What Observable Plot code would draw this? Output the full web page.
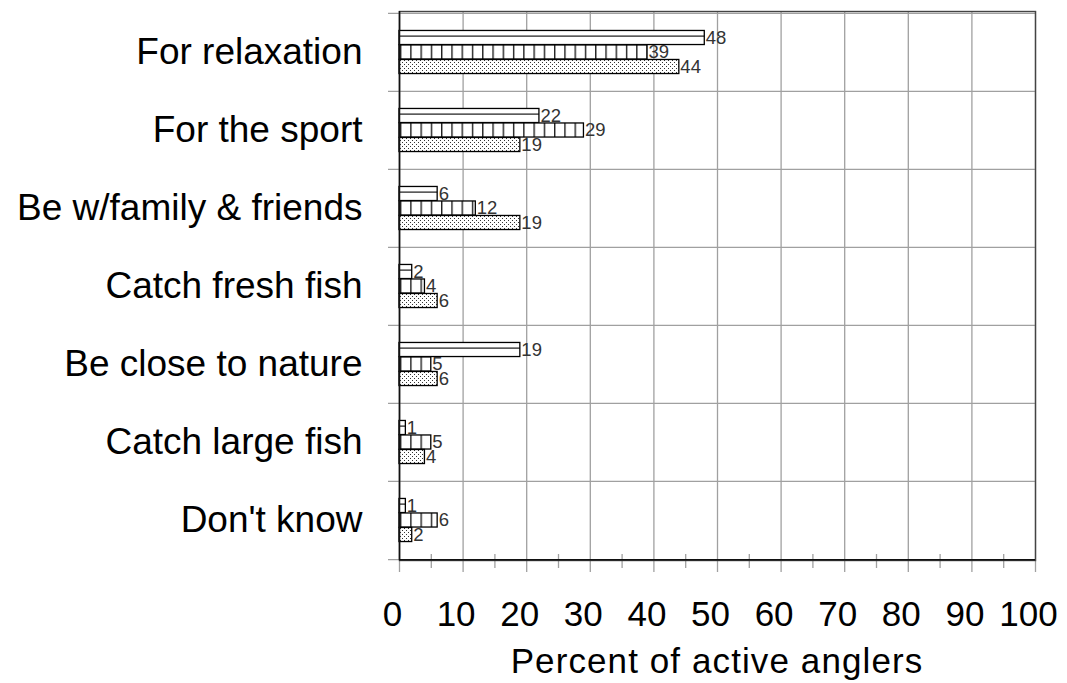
<!DOCTYPE html>
<html>
<head>
<meta charset="utf-8">
<script src="https://cdn.jsdelivr.net/npm/d3@7"></script>
<script src="https://cdn.jsdelivr.net/npm/@observablehq/plot@0.6"></script>
<style>
  html, body { margin: 0; padding: 0; background: #fff; overflow: hidden; }
  #title { font-family: "Liberation Sans", Arial, sans-serif; font-size: 35px; letter-spacing: 1.1px;
           line-height: 40px; text-align: center; color: #000; margin-top: 1px; }
</style>
</head>
<body>
<div id="chart"></div>
<div id="title">Percent of active anglers</div>
<script>
// ---- data ----
const categories = ["For relaxation", "For the sport", "Be w/family & friends", "Catch fresh fish",
                    "Be close to nature", "Catch large fish", "Don't know"];
const seriesA = [48, 22, 6, 2, 19, 1, 1];   // horizontal-line pattern
const seriesB = [39, 29, 12, 4, 5, 5, 6];   // vertical-stripe pattern
const seriesC = [44, 19, 19, 6, 6, 4, 2];   // dotted pattern
const xTicks = [0, 10, 20, 30, 40, 50, 60, 70, 80, 90, 100];
const xMinorTicks = [5, 15, 25, 35, 45, 55, 65, 75, 85, 95];
const xLabel = "Percent of active anglers";

// ---- layout ----
const W = 1067, H = 640;
const mL = 399, mR = 32, mT = 11, mB = 80;
const bandH = (H - mT - mB) / categories.length;
const barH = 14.5;
const offset = (bandH - 3 * barH) / 2;
const font = "'Liberation Sans', Arial, sans-serif";

const seriesList = [
  {values: seriesA, fill: "url(#patA)"},
  {values: seriesB, fill: "url(#patB)"},
  {values: seriesC, fill: "url(#patC)"}
];

const marks = [];
// horizontal grid lines at band boundaries (extended left as ticks)
marks.push(Plot.ruleY(categories, {y: d => d, dy: -bandH / 2, insetLeft: -11, stroke: "#a0a0a0", strokeWidth: 1.3}));
marks.push(Plot.ruleY(categories.slice(-1), {y: d => d, dy: bandH / 2, insetLeft: -11, stroke: "#a0a0a0", strokeWidth: 1.3}));
// vertical grid lines
marks.push(Plot.gridX(xTicks, {stroke: "#a0a0a0", strokeOpacity: 1, strokeWidth: 1.3}));
// major ticks below axis (gray)
marks.push(Plot.axisX({ticks: xTicks, tickSize: 12, tickFormat: () => "", stroke: "#a0a0a0", strokeWidth: 1.3, label: null}));
// minor ticks crossing axis
marks.push(Plot.axisX({ticks: xMinorTicks, tickSize: 14, dy: -6, tickFormat: () => "", stroke: "#a0a0a0", strokeWidth: 1.3, label: null}));
// tick labels
marks.push(Plot.axisX({ticks: xTicks, tickSize: 0, tickPadding: 41, dx: -7, fontSize: 35, fill: "#000", label: null}));
// frame
marks.push(Plot.frame({stroke: "#444", strokeWidth: 1.4}));
marks.push(Plot.ruleY(categories.slice(-1), {y: d => d, dy: bandH / 2, stroke: "#111", strokeWidth: 1.4}));

// bars
seriesList.forEach((s, i) => {
  const rows = categories.map((c, j) => ({category: c, value: s.values[j]}));
  marks.push(Plot.barX(rows, {
    x: "value", y: "category",
    insetTop: offset + i * barH,
    insetBottom: bandH - offset - (i + 1) * barH,
    fill: s.fill, stroke: "#000", strokeWidth: 1.3
  }));
  marks.push(Plot.text(rows, {
    x: "value", y: "category", text: d => String(d.value),
    dy: offset + (i + 0.5) * barH - bandH / 2, dx: 1,
    textAnchor: "start", fontSize: 18.5, fill: "#333"
  }));
});
// left axis line
marks.push(Plot.ruleX([0], {stroke: "#111", strokeWidth: 1.5}));
// category labels
marks.push(Plot.axisY({tickSize: 0, tickPadding: 37, fontSize: 37, fill: "#000", label: null}));

const svg = Plot.plot({
  width: W, height: H,
  marginLeft: mL, marginRight: mR, marginTop: mT, marginBottom: mB,
  style: {fontFamily: font, background: "#fff", overflow: "visible"},
  x: {domain: [0, 100]},
  y: {domain: categories, padding: 0},
  marks
});

// patterns
const defs = d3.select(svg).insert("defs", ":first-child");
const pA = defs.append("pattern").attr("id", "patA")
  .attr("patternUnits", "objectBoundingBox").attr("patternContentUnits", "objectBoundingBox")
  .attr("width", 1).attr("height", 1);
pA.append("rect").attr("width", 1).attr("height", 1).attr("fill", "#fff");
pA.append("rect").attr("x", 0).attr("y", 0.36).attr("width", 1).attr("height", 0.09).attr("fill", "#222");
const pB = defs.append("pattern").attr("id", "patB")
  .attr("patternUnits", "userSpaceOnUse").attr("x", mL).attr("y", 0)
  .attr("width", 10.27).attr("height", 20);
pB.append("rect").attr("width", 10.27).attr("height", 20).attr("fill", "#fff");
pB.append("rect").attr("x", 1).attr("y", 0).attr("width", 1.3).attr("height", 20).attr("fill", "#111");
const pC = defs.append("pattern").attr("id", "patC")
  .attr("patternUnits", "userSpaceOnUse").attr("width", 4).attr("height", 4);
pC.append("rect").attr("width", 4).attr("height", 4).attr("fill", "#fff");
pC.append("rect").attr("x", 0).attr("y", 0).attr("width", 1).attr("height", 1).attr("fill", "#333");
pC.append("rect").attr("x", 2).attr("y", 2).attr("width", 1).attr("height", 1).attr("fill", "#333");

document.getElementById("chart").appendChild(svg);
const t = document.getElementById("title");
t.textContent = xLabel;
t.style.paddingLeft = mL + "px";
t.style.paddingRight = mR + "px";
</script>
</body>
</html>
